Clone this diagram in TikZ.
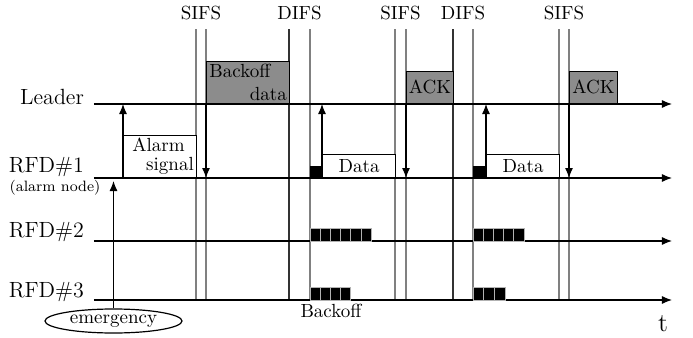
\documentclass[tikz,border=0pt]{standalone}
\usetikzlibrary{arrows.meta,shapes.geometric}
\definecolor{boxgray}{gray}{0.55}
\tikzset{
  lane/.style={line width=0.6pt, -{Latex[length=5pt,width=4pt]}},
  sig/.style={line width=0.6pt, -{Latex[length=5pt,width=4pt]}},
  txtbox/.style={draw, line width=0.6pt, inner sep=0pt, anchor=south west},
  lbl/.style={font=\fontsize{11}{13}\selectfont},
  blk/.style={fill=black, draw=gray!60, line width=0.3pt},
}
\begin{document}
\begin{tikzpicture}[x=0.5pt, y=-0.5pt, font=\fontsize{9.5}{11}\selectfont]
  \useasboundingbox (0,0) rectangle (693,338);

  %% vertical SIFS / DIFS marks
  \foreach \nm/\xpos/\col in {sa/196/gray, sb/206/gray, da/289/black!80, db/310/gray,
                              sc/395/gray, sd/406/gray, dc/453/black!80, dd/473/gray,
                              se/559/gray, sf/569/gray} {
    \coordinate (\nm-t) at (\xpos,29);
    \coordinate (\nm-b) at (\xpos,300);
    \draw[\col, line width=0.6pt] (\nm-t) -- (\nm-b);
  }
  \foreach \nm/\xpos/\lab in {ta/201/SIFS, tb/299.5/DIFS, tc/400.5/SIFS, td/463/DIFS, te/564/SIFS}
    \node (\nm) at (\xpos,13) {\lab};

  %% time lines
  \foreach \nm/\ypos in {ld/104, ra/178, rb/241, rc/300} {
    \coordinate (\nm-s) at (94,\ypos);
    \coordinate (\nm-e) at (672,\ypos);
    \draw[lane] (\nm-s) -- (\nm-e);
  }
  \node[lbl, anchor=east] (leader) at (91,97) {Leader};
  \node[lbl, anchor=east] (rfda) at (91,167) {RFD\#1};
  \node[font=\fontsize{7.5}{9}\selectfont] (alarmnode) at (55,188) {(alarm node)};
  \node[lbl, anchor=east] (rfdb) at (91,232) {RFD\#2};
  \node[lbl, anchor=east] (rfdc) at (91,292) {RFD\#3};
  \node[font=\fontsize{13}{15}\selectfont] (tlab) at (663,324) {t};

  %% frames
  \node[txtbox, fill=boxgray, minimum width=41.5pt, minimum height=21pt] (bkdata) at (206,104) {};
  \node[anchor=north west, inner sep=1.5pt] (bkdataA) at (bkdata.north west) {Backoff};
  \node[anchor=south east, inner sep=1.5pt] (bkdataB) at (bkdata.south east) {data};

  \node[txtbox, fill=white, minimum width=36.5pt, minimum height=21pt] (alarm) at (123,178) {};
  \node[anchor=north west, inner sep=1.5pt] (alarmA) at ([xshift=3pt]alarm.north west) {Alarm};
  \node[anchor=south east, inner sep=1.5pt] (alarmB) at (alarm.south east) {signal};

  \node[txtbox, fill=white, minimum width=36.5pt, minimum height=11.5pt] (dataa) at (322,178) {Data};
  \node[txtbox, fill=white, minimum width=36.5pt, minimum height=11.5pt] (datab) at (486,178) {Data};
  \node[txtbox, fill=boxgray, minimum width=23.5pt, minimum height=16pt] (acka) at (406,104) {ACK};
  \node[txtbox, fill=boxgray, minimum width=24pt, minimum height=16pt] (ackb) at (569,104) {ACK};

  \fill[black] (310,166) rectangle (322,178);
  \fill[black] (473,166) rectangle (486,178);

  %% backoff slots
  \foreach \i in {0,...,5} \filldraw[blk] ({310+\i*10.2},228) rectangle ++(10.2,13);
  \foreach \i in {0,...,4} \filldraw[blk] ({473+\i*10.2},228) rectangle ++(10.2,13);
  \foreach \i in {0,...,3} \filldraw[blk] ({310+\i*10.2},287) rectangle ++(10.2,13);
  \foreach \i in {0,...,2} \filldraw[blk] ({473+\i*10.7},287) rectangle ++(10.7,13);
  \node (bklab) at (331,311) {Backoff};

  %% signalling arrows
  \draw[sig] (alarm.south west) -- (alarm.south west |- ld-s);
  \draw[sig] (sb-t |- ld-s) -- (sb-t |- ra-s);
  \draw[sig] (dataa.south west) -- (dataa.south west |- ld-s);
  \draw[sig] (sd-t |- ld-s) -- (sd-t |- ra-s);
  \draw[sig] (datab.south west) -- (datab.south west |- ld-s);
  \draw[sig] (sf-t |- ld-s) -- (sf-t |- ra-s);

  %% emergency event
  \node[draw, ellipse, line width=0.6pt, inner sep=0pt, minimum width=68.5pt, minimum height=12pt] (emerg) at (113.5,321) {emergency};
  \draw[sig] (emerg.north) -- ([yshift=-1.5pt]emerg.north |- ra-s);
\end{tikzpicture}
\end{document}
